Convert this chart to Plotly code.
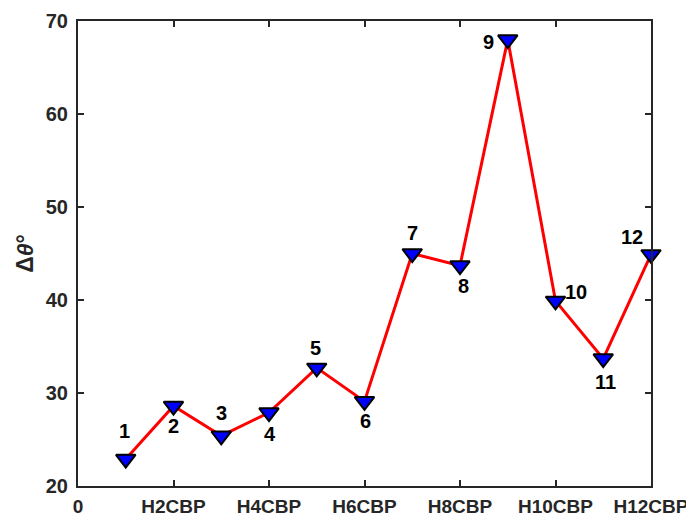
import plotly.graph_objects as go

x_vals = [1, 2, 3, 4, 5, 6, 7, 8, 9, 10, 11, 12]
y_vals = [22.9, 28.6, 25.4, 27.9, 32.7, 29.1, 45.0, 43.7, 68.0, 39.9, 33.7, 44.9]
point_labels = ["1", "2", "3", "4", "5", "6", "7", "8", "9", "10", "11", "12"]
tick_vals = [0, 2, 4, 6, 8, 10, 12]
tick_text = ["0", "H2CBP", "H4CBP", "H6CBP", "H8CBP", "H10CBP", "H12CBP"]
y_ticks = [20, 30, 40, 50, 60, 70]

# label offsets in pixels (xshift, yshift)
offsets = [(-1, 28), (0, -20), (0, 23), (1, -21), (-1, 20), (1, -20),
           (0, 21), (3, -20), (-19, -2), (20, 9), (2, -23), (-19, 17)]

FONT = "Liberation Sans, Arial, sans-serif"

fig = go.Figure()
fig.add_trace(go.Scatter(
    x=x_vals, y=y_vals, mode="lines+markers",
    line=dict(color="#ff0000", width=3),
    marker=dict(symbol="triangle-down", size=17, color="#0000ff",
                line=dict(color="#000000", width=2)),
    showlegend=False, cliponaxis=False,
))

for xv, yv, lab, (dx, dy) in zip(x_vals, y_vals, point_labels, offsets):
    fig.add_annotation(x=xv, y=yv, text=lab, showarrow=False,
                       xshift=dx, yshift=dy,
                       font=dict(family=FONT, size=20, color="#000000", weight="bold"))

# page body has an 8px margin, so the figure is sized/margined to compensate
fig.update_layout(
    width=686, height=510,
    margin=dict(l=70, r=43, t=13, b=32, autoexpand=False),
    paper_bgcolor="white", plot_bgcolor="white",
    font=dict(family=FONT, color="#000000"),
)
fig.update_xaxes(
    range=[0, 12], tickmode="array", tickvals=tick_vals, ticktext=tick_text,
    ticks="inside", ticklen=6, tickwidth=1.5, tickcolor="#262626",
    showline=True, linecolor="#262626", linewidth=2, mirror="ticks",
    showgrid=False, zeroline=False, automargin=False,
    tickfont=dict(family=FONT, size=19, color="#262626", weight="bold"),
    ticklabelstandoff=2,
)
fig.update_yaxes(
    range=[20, 70], tickmode="array", tickvals=y_ticks,
    ticks="inside", ticklen=6, tickwidth=1.5, tickcolor="#262626",
    showline=True, linecolor="#262626", linewidth=2, mirror="ticks",
    showgrid=False, zeroline=False, automargin=False,
    tickfont=dict(family=FONT, size=20, color="#262626", weight="bold"),
    ticklabelstandoff=4,
    title=dict(text="Δ<i>θ</i>°", font=dict(family=FONT, size=23, color="#262626", weight="bold"),
               standoff=6),
)

fig.write_html("out.html")
